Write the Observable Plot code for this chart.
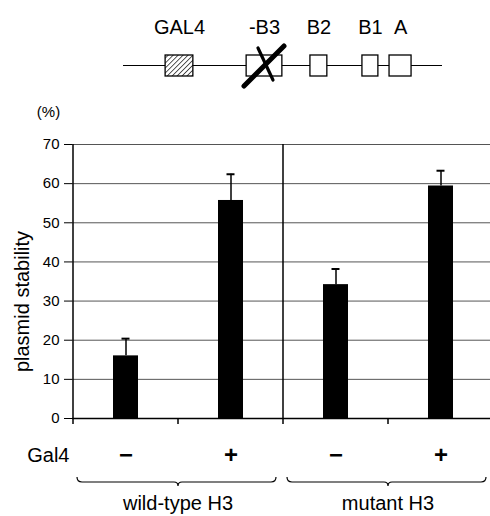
<!DOCTYPE html>
<html><head><meta charset="utf-8">
<script src="https://cdn.jsdelivr.net/npm/d3@7"></script>
<script src="https://cdn.jsdelivr.net/npm/@observablehq/plot@0.6"></script>
<style>
body{margin:0;background:#fff;}
#chart{width:490px;height:516px;font-family:"Liberation Sans",Arial,Helvetica,sans-serif;}
#chart svg{display:block;overflow:visible;}
</style></head><body><div id="chart"></div>
<script>
// ---- data ----
const categories = ["wt-", "wt+", "mut-", "mut+"];
const gal4Signs = ["−", "+", "−", "+"];
const groups = ["wild-type H3", "mutant H3"];
const groupOf = [0, 0, 1, 1];
const stability = [16.0, 55.7, 34.2, 59.4];
const errorUp = [4.4, 6.7, 4.0, 3.9];
const yTicks = [0, 10, 20, 30, 40, 50, 60, 70];

const diagramLabels = ["GAL4", "-B3", "B2", "B1", "A"];
const diagramStart = [13.2, 38.6, 58.6, 74.9, 83.4];
const diagramEnd = [21.9, 49.8, 63.9, 79.9, 90.3];
const diagramHatched = [true, false, false, false, false];
const deletedElement = "-B3";

const FONT = '"Liberation Sans", Arial, Helvetica, sans-serif';

// ---- diagram ----
const elems = diagramLabels.map((l, i) => ({l, s: diagramStart[i], e: diagramEnd[i], h: diagramHatched[i]}));
function crossMark(index, scales) {
  const x = scales.x;
  const d = elems.find(e => e.l === deletedElement);
  const cx = x((d.s + d.e) / 2), cy = 65.5;
  const g = d3.create("svg:g").attr("stroke", "#000").attr("stroke-linecap", "round");
  g.append("path").attr("d", `M${cx - 20},${cy + 20.5} L${cx + 20},${cy - 19.5}`).attr("stroke-width", 5);
  g.append("path").attr("d", `M${cx - 6},${cy - 17.5} L${cx + 9},${cy + 14.5}`).attr("stroke-width", 3.2);
  return g.node();
}
const diag = Plot.plot({
  width: 490, height: 100, marginTop: 55, marginBottom: 24, marginLeft: 123, marginRight: 48,
  style: {fontFamily: FONT, background: "white", color: "#000"},
  x: {domain: [0, 100], axis: null},
  marks: [
    Plot.rect([{a: 0, b: 100}], {x1: "a", x2: "b", insetTop: 10, insetBottom: 10, fill: "#000"}),
    Plot.rect(elems.filter(d => !d.h), {x1: "s", x2: "e", fill: "white", stroke: "#000", strokeWidth: 1.3}),
    Plot.rect(elems.filter(d => d.h), {x1: "s", x2: "e", fill: "url(#hatch)", stroke: "#000", strokeWidth: 1.3}),
    Plot.text(elems, {x: d => (d.s + d.e) / 2, text: "l", frameAnchor: "top", lineAnchor: "bottom", dy: -22, fontSize: 20, fill: "#000"}),
    crossMark
  ]
});
const defs = d3.create("svg:defs");
const pat = defs.append("pattern").attr("id", "hatch").attr("patternUnits", "userSpaceOnUse")
  .attr("width", 3.5).attr("height", 3.5).attr("patternTransform", "rotate(45)");
pat.append("rect").attr("width", 3.5).attr("height", 3.5).attr("fill", "white");
pat.append("line").attr("x1", 0).attr("y1", 0).attr("x2", 0).attr("y2", 3.5).attr("stroke", "#000").attr("stroke-width", 1.3);
diag.insertBefore(defs.node(), diag.firstChild);

// ---- main chart ----
const rows = categories.map((c, i) => ({c, v: stability[i], e: stability[i] + errorUp[i], s: gal4Signs[i]}));
const step = (494 - 72) / categories.length;

function decorations(index, scales) {
  const x = scales.x, y = scales.y;
  const bw = x.bandwidth ? x.bandwidth() : step;
  const yb = y(0), yt = y(70);
  const g = d3.create("svg:g").attr("stroke", "#000").attr("fill", "none");
  const x0 = x(categories[0]);
  g.append("line").attr("x1", x0).attr("x2", x0).attr("y1", yt).attr("y2", yb + 6).attr("stroke-width", 1.5);
  const xd = x(categories[2]);
  g.append("line").attr("x1", xd).attr("x2", xd).attr("y1", yt).attr("y2", yb + 6).attr("stroke-width", 1.5);
  [1, 3].forEach(i => {
    const xi = x(categories[i]);
    g.append("line").attr("x1", xi).attr("x2", xi).attr("y1", yb).attr("y2", yb + 6).attr("stroke-width", 1.5);
  });
  groups.forEach((name, gi) => {
    const idx = categories.map((c, i) => i).filter(i => groupOf[i] === gi);
    const left = x(categories[idx[0]]), right = x(categories[idx[idx.length - 1]]) + bw;
    const a = left + 4, b = right - 7, cx = (left + right) / 2;
    const y1 = yb + 59, ym = yb + 64, yd = yb + 68;
    g.append("path").attr("stroke-width", 1.2)
      .attr("d", `M${a},${y1} Q${a},${ym} ${a + 5},${ym} L${cx - 4},${ym} Q${cx},${ym} ${cx},${yd} Q${cx},${ym} ${cx + 4},${ym} L${b - 5},${ym} Q${b},${ym} ${b},${y1}`);
    g.append("text").attr("x", cx).attr("y", yb + 92).attr("text-anchor", "middle")
      .attr("stroke", "none").attr("fill", "#000").attr("font-size", 20).text(name);
  });
  return g.node();
}

const main = Plot.plot({
  width: 490, height: 416, marginTop: 44, marginBottom: 98, marginLeft: 72, marginRight: -4,
  style: {fontFamily: FONT, fontSize: "15px", background: "white", color: "#000"},
  x: {domain: categories, range: [72, 494], padding: 0, axis: null},
  y: {domain: [0, 70], range: [318, 44], ticks: yTicks, tickSize: 8, tickPadding: 5, label: null},
  marks: [
    Plot.ruleY(yTicks.filter(t => t > 0), {stroke: "#555", strokeWidth: 1}),
    Plot.ruleY([0], {stroke: "#000", strokeWidth: 1.5}),
    Plot.barY(rows, {x: "c", y: "v", fill: "#000", insetLeft: 40, insetRight: 40}),
    Plot.ruleX(rows, {x: "c", y1: "v", y2: "e", stroke: "#000", strokeWidth: 1.5}),
    Plot.tickY(rows, {x: "c", y: "e", stroke: "#000", strokeWidth: 2, insetLeft: 48.5, insetRight: 48.5}),
    Plot.text(rows, {x: "c", text: "s", frameAnchor: "bottom", dy: 37, lineAnchor: "middle", fontSize: 24, fontWeight: "bold", fill: "#000"}),
    Plot.text(["Gal4"], {text: d => d, frameAnchor: "bottom-left", dx: -3, dy: 37, textAnchor: "end", lineAnchor: "middle", fontSize: 20, fill: "#000"}),
    Plot.text(["(%)"], {text: d => d, frameAnchor: "top-left", dx: -24, dy: -32, textAnchor: "middle", lineAnchor: "middle", fontSize: 15, fill: "#000"}),
    Plot.text(["plasmid stability"], {text: d => d, frameAnchor: "left", dx: -50, dy: 20, rotate: -90, textAnchor: "middle", lineAnchor: "middle", fontSize: 20, fill: "#000"}),
    decorations
  ]
});

const chart = document.getElementById("chart");
chart.appendChild(diag);
chart.appendChild(main);
</script></body></html>
